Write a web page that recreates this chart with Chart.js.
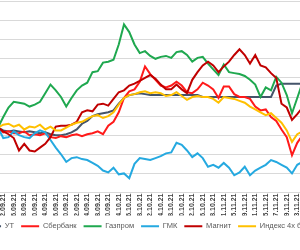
<!DOCTYPE html>
<html>
<head>
<meta charset="utf-8">
<script src="https://cdn.jsdelivr.net/npm/chart.js@4.4.1/dist/chart.umd.min.js"></script>
<style>
  html, body { margin: 0; padding: 0; background: #fff; overflow: hidden; }
  #wrap { position: absolute; left: -50px; top: 0; width: 400px; height: 250px; }
</style>
</head>
<body>
<div id="wrap"><canvas id="chart" width="400" height="250"></canvas></div>
<script>
// торговые дни, подписан каждый второй
const dates = ['01.09.21','02.09.21','03.09.21','06.09.21','07.09.21','08.09.21','09.09.21','10.09.21','13.09.21','14.09.21',
  '15.09.21','16.09.21','17.09.21','20.09.21','21.09.21','22.09.21','23.09.21','24.09.21','27.09.21','28.09.21',
  '29.09.21','30.09.21','01.10.21','04.10.21','05.10.21','06.10.21','07.10.21','08.10.21','11.10.21','12.10.21',
  '13.10.21','14.10.21','15.10.21','18.10.21','19.10.21','20.10.21','21.10.21','22.10.21','25.10.21','26.10.21',
  '27.10.21','28.10.21','29.10.21','01.11.21','03.11.21','05.11.21','08.11.21','09.11.21','10.11.21','11.11.21',
  '12.11.21','15.11.21','16.11.21','17.11.21','18.11.21','19.11.21','22.11.21','23.11.21','24.11.21']

const names = ['УТ', 'Сбербанк', 'Газпром', 'ГМК', 'Магнит', 'Индекс 4х бумаг']
const colors = ['#44546A', '#FF1A1A', '#1FA84F', '#25A9E0', '#C00000', '#FFC000']

const ut = [99.8,99.5,99.4,99.5,99.4,99.3,99.4,99.3,99.2,99.3,
  99.1,99.0,99.0,99.1,99.3,99.6,100.2,100.5,101.0,101.2,
  101.3,101.4,101.6,102.3,102.9,103.2,103.3,103.4,103.3,103.2,
  103.2,103.2,103.2,103.2,103.2,103.2,103.2,103.2,103.2,103.0,
  103.0,103.0,103.0,103.0,103.0,103.0,103.0,103.0,103.0,103.0,
  103.0,103.0,103.0,104.2,104.4,104.4,104.4,104.4,104.4]
const sber = [99.8,99.3,99.4,99.2,99.2,99.4,99.0,99.1,99.0,99.2,
  98.8,98.7,98.9,98.8,99.0,99.1,98.9,99.1,99.2,99.4,
  99.1,100.0,100.4,101.4,102.9,103.6,103.8,104.6,106.2,105.4,
  104.8,104.2,104.0,104.2,104.6,104.2,103.5,103.4,103.8,104.5,
  104.2,103.8,102.9,104.1,104.1,103.3,103.0,103.0,102.8,102.0,
  101.6,101.7,100.9,100.5,99.6,98.8,96.9,98.2,99.0]
const gazprom = [99.8,100.9,101.9,102.5,102.4,102.3,102.0,102.2,102.5,103.4,
  104.3,103.7,103.0,102.0,102.9,103.7,104.2,104.5,105.6,105.7,
  106.6,106.7,106.9,108.5,110.6,109.8,108.5,107.6,107.8,107.3,
  107.0,107.2,107.3,107.1,107.7,107.8,107.4,106.7,107.1,107.2,
  106.5,105.9,105.3,106.4,105.6,105.5,105.4,105.2,104.8,104.3,
  103.0,104.0,103.7,105.1,104.5,103.2,101.3,102.9,104.5]
const gmk = [99.8,98.7,98.8,99.4,99.0,98.8,98.7,99.2,99.5,99.3,
  98.5,97.7,97.0,96.2,96.6,96.7,96.5,96.4,96.1,95.8,
  95.3,95.1,95.6,94.9,95.0,94.5,96.0,96.6,96.5,96.4,
  96.6,96.8,97.1,97.2,98.2,98.0,97.4,96.7,97.1,96.6,
  95.7,95.9,95.6,96.1,95.6,94.8,95.1,95.7,94.8,95.3,
  95.6,95.9,96.4,96.2,95.9,95.6,95.0,95.9,96.2]
const magnit = [99.8,99.4,99.1,98.7,97.4,98.1,97.4,97.3,97.7,98.1,
  98.8,99.9,100.0,100.0,100.1,100.4,101.4,101.6,101.5,102.2,
  102.3,102.1,102.8,103.5,103.7,104.2,104.4,104.7,105.0,105.3,
  104.9,104.3,103.8,103.8,104.3,103.8,103.4,104.8,105.6,106.3,
  106.7,106.3,105.6,106.2,106.7,107.4,108.0,107.4,106.5,107.4,
  106.3,106.1,105.5,105.0,102.3,101.9,100.6,101.2,101.9]
const index4 = [99.8,100.1,100.2,99.9,100.1,99.6,99.9,99.8,100.1,99.6,
  99.9,99.5,99.5,99.8,100.1,100.3,100.4,100.7,101.0,101.1,
  100.8,101.0,101.4,102.2,102.9,103.2,103.3,103.5,103.6,103.4,
  103.5,103.4,103.1,103.2,103.5,103.1,102.7,103.0,103.1,103.0,
  103.0,102.8,102.4,103.0,102.9,102.8,102.6,102.4,102.0,101.7,
  101.4,101.1,101.3,100.8,100.3,99.5,98.3,99.1,99.4]

const series = [ut, sber, gazprom, gmk, magnit, index4]

const ctx = document.getElementById('chart').getContext('2d')
const chart = new Chart(ctx, {
  type: 'line',
  data: {
    labels: dates,
    datasets: series.map((s, i) => ({
      label: names[i],
      data: s,
      borderColor: colors[i],
      backgroundColor: colors[i],
      borderWidth: 2,
      pointRadius: 0,
      tension: 0,
      order: series.length - i,
    })),
  },
  options: {
    responsive: false,
    animation: false,
    layout: { padding: { left: 0, right: 0, top: 1.5, bottom: 10 } },
    plugins: {
      tooltip: { enabled: false },
      legend: {
        position: 'bottom',
        labels: {
          sort: (a, b) => a.datasetIndex - b.datasetIndex,
          usePointStyle: true,
          pointStyle: 'line',
          pointStyleWidth: 18,
          padding: 7,
          color: '#595959',
          font: { family: 'Liberation Sans, Arial', size: 7.5 },
        },
      },
    },
    scales: {
      x: {
        grid: { display: false, drawTicks: false },
        border: { display: false },
        afterFit: (scale) => { scale.height = 23 },
        ticks: {
          autoSkip: false,
          minRotation: 90,
          maxRotation: 90,
          padding: 1,
          color: '#404040',
          font: { family: 'Liberation Sans, Arial', size: 7, weight: 'bold' },
          callback: function(v, i) { return i % 2 === 1 ? this.getLabelForValue(v) : '' },
        },
      },
      y: {
        min: 93,
        max: 113,
        afterFit: (scale) => { scale.width = 48 },
        ticks: { display: false, stepSize: 2 },
        grid: { color: '#D9D9D9', drawTicks: false },
        border: { display: false },
      },
      y2: {
        position: 'right',
        afterFit: (scale) => { scale.width = 47.5 },
        ticks: { display: false },
        grid: { display: false, drawTicks: false },
        border: { display: false },
      },
    },
  },
})
</script>
</body>
</html>
